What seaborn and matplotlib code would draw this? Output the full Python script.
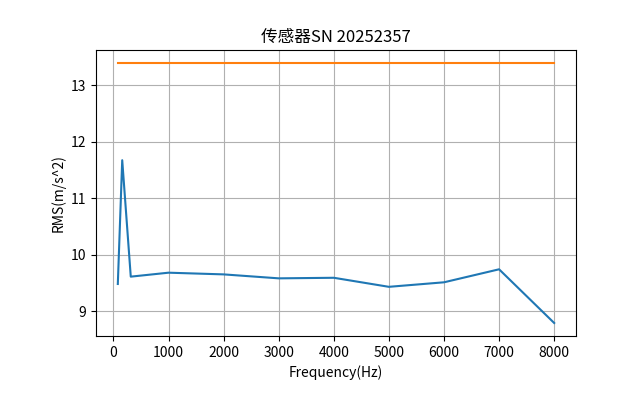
import matplotlib
matplotlib.use("Agg")
import matplotlib.pyplot as plt
import seaborn as sns
import pandas as pd

freq = [80, 160, 315, 1000, 2000, 3000, 4000, 5000, 6000, 7000, 8000]
rms = [9.48, 11.67, 9.61, 9.68, 9.65, 9.58, 9.59, 9.43, 9.51, 9.74, 8.79]
limit = [13.39] * len(freq)

plt.rcParams['font.family'] = ['Noto Sans CJK SC', 'DejaVu Sans']
plt.rcParams['axes.unicode_minus'] = False

df = pd.DataFrame({"freq": freq, "rms": rms, "limit": limit})

fig, ax = plt.subplots(figsize=(6.4, 4.2), dpi=100)
fig.subplots_adjust(left=0.15, right=0.9, bottom=0.2, top=0.881)
sns.lineplot(data=df, x="freq", y="rms", ax=ax, color="#1f77b4")
sns.lineplot(data=df, x="freq", y="limit", ax=ax, color="#ff7f0e")
ax.grid(True)
ax.set_title("传感器SN 20252357")
ax.set_xlabel("Frequency(Hz)")
ax.set_ylabel("RMS(m/s^2)")
fig.savefig("out.png", dpi=100)
